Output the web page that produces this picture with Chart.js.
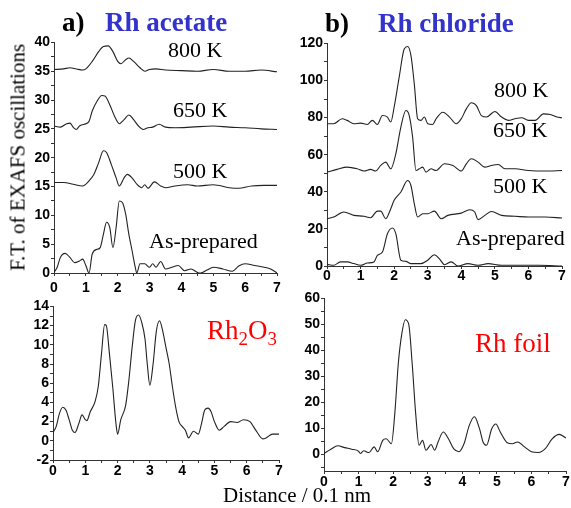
<!DOCTYPE html>
<html>
<head>
<meta charset="utf-8">
<script src="https://cdn.jsdelivr.net/npm/chart.js@4.4.1/dist/chart.umd.min.js"></script>
<style>
  html, body { margin: 0; padding: 0; background: #fff; }
  #page { position: relative; width: 571px; height: 508px; overflow: hidden;
          font-family: "Liberation Serif", "Times New Roman", serif; }
  canvas { position: absolute; }
  .lbl { position: absolute; white-space: nowrap; font-size: 22px; line-height: 22px; color: #000; }
  .ttl { position: absolute; white-space: nowrap; font-size: 27px; line-height: 27px; font-weight: bold; color: #3333cc; }
  .tag { color: #000; }
  .red { position: absolute; white-space: nowrap; font-size: 27px; line-height: 27px; color: #ff0000; }
  .red span { font-size: 70%; position: relative; top: 0.3em; }
  #ytitle { position: absolute; width: 260px; text-align: center; font-size: 21px; line-height: 21px;
            left: -112px; top: 147px; transform: rotate(-90deg); white-space: nowrap; }
  #xtitle { position: absolute; font-size: 21px; line-height: 21px; left: 223px; top: 485px; white-space: nowrap; }
</style>
</head>
<body>
<div id="page">
  <canvas id="pA" width="261" height="262" style="left:24px;top:33px"></canvas>
  <canvas id="pB" width="273" height="254" style="left:297px;top:34px"></canvas>
  <canvas id="pC" width="264" height="185" style="left:23px;top:297px"></canvas>
  <canvas id="pD" width="277" height="204" style="left:294px;top:289px"></canvas>

  <div class="ttl tag" style="left:62px;top:9px">a)</div>
  <div class="ttl" style="left:105px;top:9px">Rh acetate</div>
  <div class="ttl tag" style="left:325px;top:10px">b)</div>
  <div class="ttl" style="left:378px;top:10px">Rh chloride</div>

  <div class="lbl" style="left:168px;top:39px">800 K</div>
  <div class="lbl" style="left:173px;top:99px">650 K</div>
  <div class="lbl" style="left:173px;top:160px">500 K</div>
  <div class="lbl" style="left:149px;top:230px">As-prepared</div>

  <div class="lbl" style="left:494px;top:79px">800 K</div>
  <div class="lbl" style="left:493px;top:119px">650 K</div>
  <div class="lbl" style="left:493px;top:175px">500 K</div>
  <div class="lbl" style="left:456px;top:227px">As-prepared</div>

  <div class="red" style="left:207px;top:317px">Rh<span>2</span>O<span>3</span></div>
  <div class="red" style="left:475px;top:330px">Rh foil</div>

  <div id="ytitle">F.T. of EXAFS oscillations</div>
  <div id="xtitle">Distance / 0.1 nm</div>
</div>

<script>
// tick labels
const xTickLabels = [0, 1, 2, 3, 4, 5, 6, 7];
const acetateYTicks = [0, 5, 10, 15, 20, 25, 30, 35, 40];
const chlorideYTicks = [0, 20, 40, 60, 80, 100, 120];
const oxideYTicks = [-2, 0, 2, 4, 6, 8, 10, 12, 14];
const foilYTicks = [0, 10, 20, 30, 40, 50, 60];

// a) Rh acetate  [distance, FT]
const acetate800 = [[0,35.3],[0.3,35.4],[0.5,35.6],[0.7,35.4],[0.9,35.2],[1.0,35.4],[1.2,36.7],[1.4,38.4],[1.55,39.3],[1.7,39.4],[1.85,38.4],[2.0,36.7],[2.1,36.3],[2.25,37.0],[2.35,37.3],[2.5,36.7],[2.7,35.6],[2.85,35.0],[3.0,35.3],[3.2,35.4],[3.5,35.2],[4.0,35.1],[4.5,35.0],[5.0,35.3],[5.5,35.0],[6.0,35.0],[6.5,35.2],[7.0,34.9]];
const acetate650 = [[0,25.5],[0.2,25.3],[0.4,25.9],[0.5,26.0],[0.6,25.3],[0.7,24.9],[0.8,25.5],[0.95,25.8],[1.1,26.3],[1.2,28.1],[1.35,29.8],[1.5,30.8],[1.6,30.7],[1.75,29.2],[1.9,27.2],[2.05,25.9],[2.2,26.6],[2.35,27.4],[2.5,26.6],[2.65,25.5],[2.8,24.9],[2.95,25.2],[3.1,25.3],[3.3,25.8],[3.5,25.3],[3.8,25.2],[4.3,25.3],[5.0,25.5],[5.5,25.3],[6.0,25.2],[6.5,25.0],[7.0,24.9]];
const acetate500 = [[0,15.7],[0.3,15.7],[0.6,15.4],[0.9,15.1],[1.1,16.0],[1.25,17.1],[1.4,19.1],[1.55,21.2],[1.65,20.9],[1.8,18.8],[1.95,16.5],[2.05,15.1],[2.2,16.5],[2.3,17.1],[2.45,16.5],[2.6,15.4],[2.75,14.8],[2.85,15.3],[2.95,14.7],[3.15,15.8],[3.35,15.1],[3.5,14.8],[3.8,15.1],[4.2,15.3],[4.5,15.1],[5.0,15.3],[5.5,14.8],[5.8,14.7],[6.2,15.1],[6.6,15.2],[7.0,15.2]];
const acetatePrep = [[0,0.1],[0.1,1.0],[0.2,2.7],[0.35,3.4],[0.5,2.7],[0.65,1.8],[0.8,2.1],[0.9,2.4],[1.0,1.3],[1.1,0],[1.2,3.3],[1.35,4.1],[1.45,4.4],[1.55,6.7],[1.65,8.8],[1.75,7.9],[1.85,4.4],[1.95,7.9],[2.05,12.5],[2.15,12.2],[2.25,10.2],[2.35,6.7],[2.45,3.9],[2.55,1.0],[2.6,0],[2.7,1.6],[2.85,1.6],[3.0,1.0],[3.1,1.6],[3.2,1.0],[3.35,2.0],[3.5,0.7],[3.7,1.0],[3.9,1.3],[4.1,0.4],[4.3,0.7],[4.5,0.1],[4.6,0],[4.8,0.5],[5.0,1.0],[5.3,0.7],[5.6,0.3],[5.8,1.2],[6.0,1.6],[6.3,1.3],[6.6,1.0],[6.8,0.7],[7.0,0]];

// b) Rh chloride
const chloride800 = [[0,76.7],[0.2,76.7],[0.45,79.4],[0.6,78.5],[0.8,76.7],[1.0,77.0],[1.2,76.3],[1.35,78.5],[1.5,76.3],[1.65,81.1],[1.8,80.3],[1.9,77.6],[2.0,85.6],[2.15,101.8],[2.3,117],[2.4,118.3],[2.5,113.5],[2.6,98.2],[2.7,79.4],[2.8,78.5],[2.9,80.3],[3.0,76.7],[3.15,76.3],[3.25,79.4],[3.45,82.9],[3.65,80.3],[3.85,76.7],[4.0,79.4],[4.15,84.7],[4.3,88.0],[4.45,86.5],[4.6,81.1],[4.75,80.3],[5.0,83.3],[5.2,80.3],[5.4,78.5],[5.6,79.4],[5.8,79.9],[6.0,78.5],[6.2,78.5],[6.45,82.0],[6.65,81.7],[6.85,80.3],[7.0,79.9]];
const chloride650 = [[0,50.6],[0.3,52.1],[0.6,53.3],[0.9,52.4],[1.1,51.2],[1.3,52.1],[1.45,51.2],[1.6,54.2],[1.75,56.0],[1.9,52.4],[2.05,60.5],[2.2,74.9],[2.35,83.8],[2.45,81.1],[2.55,69.5],[2.65,51.5],[2.75,52.4],[2.85,53.3],[2.95,50.6],[3.1,52.4],[3.25,51.5],[3.5,55.1],[3.75,54.2],[4.0,51.2],[4.15,55.1],[4.3,57.8],[4.5,56.0],[4.7,53.3],[4.9,54.2],[5.1,54.7],[5.3,52.4],[5.6,52.4],[6.0,51.5],[6.5,51.2],[7.0,51.5]];
const chloride500 = [[0,25.5],[0.2,26.4],[0.5,29.1],[0.8,27.3],[1.1,26.8],[1.3,26.0],[1.5,29.6],[1.6,29.6],[1.75,25.5],[1.9,30.9],[2.0,35.4],[2.2,39.9],[2.4,46.1],[2.5,43.4],[2.6,33.6],[2.7,26.4],[2.85,28.2],[3.0,28.2],[3.2,29.6],[3.4,25.5],[3.6,27.3],[4.0,28.5],[4.25,30.3],[4.4,29.1],[4.5,25.0],[4.7,27.3],[4.9,29.4],[5.2,27.3],[5.6,26.8],[6.0,26.4],[6.5,26.4],[7.0,25.9]];
const chloridePrep = [[0,0.9],[0.2,0.4],[0.4,2.2],[0.6,2.2],[0.8,1.3],[1.0,0.4],[1.2,1.6],[1.4,2.2],[1.5,5.7],[1.65,7.5],[1.8,17.4],[1.95,20.5],[2.05,17.4],[2.2,3.1],[2.35,2.5],[2.5,1.3],[2.8,1.3],[3.0,3.1],[3.2,6.1],[3.35,3.9],[3.5,0.7],[3.7,2.2],[3.9,0],[4.2,1.3],[4.5,0.4],[4.8,1.3],[5.2,0.4],[5.7,0.4],[6.3,0.4],[7.0,0]];

// c) Rh2O3
const rh2o3 = [[0,0.86],[0.1,1.5],[0.2,2.85],[0.3,3.5],[0.4,3.2],[0.5,2.2],[0.6,1.1],[0.68,0.86],[0.8,1.8],[0.9,2.7],[1.0,2.2],[1.05,2.1],[1.15,3.0],[1.3,4.05],[1.4,5.6],[1.5,9.0],[1.6,12.1],[1.65,12.0],[1.75,9.0],[1.85,5.6],[1.95,1.8],[2.0,0.7],[2.1,2.2],[2.25,3.7],[2.35,6.3],[2.45,9.7],[2.55,12.5],[2.65,13.1],[2.75,12.3],[2.85,10.6],[2.92,8.0],[3.0,5.8],[3.1,8.0],[3.2,11.4],[3.3,12.5],[3.4,11.4],[3.5,9.7],[3.6,8.0],[3.7,5.6],[3.8,3.5],[3.9,2.0],[4.0,1.5],[4.1,1.1],[4.2,0.3],[4.35,1.0],[4.5,0.7],[4.6,1.8],[4.7,3.2],[4.8,3.4],[4.9,3.0],[5.0,2.0],[5.15,1.1],[5.3,1.5],[5.5,2.0],[5.7,1.9],[5.9,2.2],[6.1,2.0],[6.3,1.0],[6.5,0.2],[6.6,0.3],[6.8,0.7],[7.0,0.7]];

// d) Rh foil
const rhFoil = [[0,0.25],[0.2,1.9],[0.4,3.2],[0.6,2.5],[0.8,1.9],[1.0,1.1],[1.05,0.25],[1.15,1.3],[1.3,0.6],[1.45,2.8],[1.55,0.9],[1.7,5.3],[1.8,5.9],[1.95,4.0],[2.05,16],[2.15,35],[2.25,46.3],[2.35,51.8],[2.45,50.1],[2.55,35],[2.65,16],[2.75,3.4],[2.85,5.3],[2.95,1.5],[3.1,3.7],[3.2,1.5],[3.3,4.7],[3.45,8.5],[3.6,5.9],[3.75,2.1],[3.9,0.9],[4.05,4.0],[4.2,11.0],[4.35,14.4],[4.5,9.7],[4.6,4.7],[4.7,3.4],[4.85,9.7],[4.97,11.6],[5.1,8.5],[5.3,4.4],[5.45,4.0],[5.6,4.7],[5.8,2.8],[6.0,0.9],[6.2,0.6],[6.4,2.1],[6.6,5.9],[6.8,7.6],[7.0,6.2]];

const tickFont = { family: '"Liberation Sans", Arial, sans-serif', size: 14, weight: 'bold' };

// all multiples of step inside [min, max]
function tickValues(min, max, step) {
    const out = [];
    for (let v = Math.ceil(min / step - 1e-9) * step; v <= max + 1e-9; v += step) {
        out.push(+v.toFixed(3));
    }
    return out;
}

function makePanel(id, series, p) {
    const ctx = document.getElementById(id).getContext('2d');
    new Chart(ctx, {
        type: 'line',
        data: {
            datasets: series.map(s => ({
                data: s.map(d => ({ x: d[0], y: d[1] })),
                borderColor: '#222',
                borderWidth: 1.1,
                pointRadius: 0,
                cubicInterpolationMode: 'monotone'
            }))
        },
        options: {
            responsive: false,
            animation: false,
            events: [],
            layout: { padding: { top: 8, right: p.padRight, left: 0, bottom: 0 } },
            plugins: { legend: { display: false }, tooltip: { enabled: false } },
            scales: {
                x: {
                    type: 'linear', min: 0, max: 7,
                    afterFit: s => { s.height = 22; },
                    afterBuildTicks: s => { s.ticks = tickValues(0, 7, 0.5).map(v => ({ value: v })); },
                    ticks: {
                        autoSkip: false, maxRotation: 0, padding: p.xPad, color: '#000', font: tickFont,
                        callback: v => xTickLabels.includes(v) ? String(v) : ''
                    },
                    grid: { drawOnChartArea: false, tickLength: 3, color: '#333' },
                    border: { color: '#333', width: 1 }
                },
                y: {
                    type: 'linear', min: p.yMin, max: p.yMax,
                    afterFit: s => { s.width = 30; },
                    afterBuildTicks: s => { s.ticks = tickValues(p.yMin, p.yMax, p.yMinor).map(v => ({ value: v })); },
                    ticks: {
                        autoSkip: false, padding: 1, color: '#000', font: tickFont,
                        callback: v => p.yTicks.includes(v) ? String(v) : ''
                    },
                    grid: { drawOnChartArea: false, tickLength: 3, color: '#333' },
                    border: { color: '#333', width: 1 }
                }
            }
        }
    });
}

makePanel('pA', [acetate800, acetate650, acetate500, acetatePrep],
    { yMin: 0, yMax: 40, yMinor: 2.5, yTicks: acetateYTicks, xPad: 4, padRight: 8 });
makePanel('pB', [chloride800, chloride650, chloride500, chloridePrep],
    { yMin: 0, yMax: 120, yMinor: 10, yTicks: chlorideYTicks, xPad: -1, padRight: 8 });
makePanel('pC', [rh2o3],
    { yMin: -2, yMax: 14, yMinor: 1, yTicks: oxideYTicks, xPad: 0, padRight: 8 });
makePanel('pD', [rhFoil],
    { yMin: -6.5, yMax: 60, yMinor: 5, yTicks: foilYTicks, xPad: 0, padRight: 5 });
</script>
</body>
</html>
